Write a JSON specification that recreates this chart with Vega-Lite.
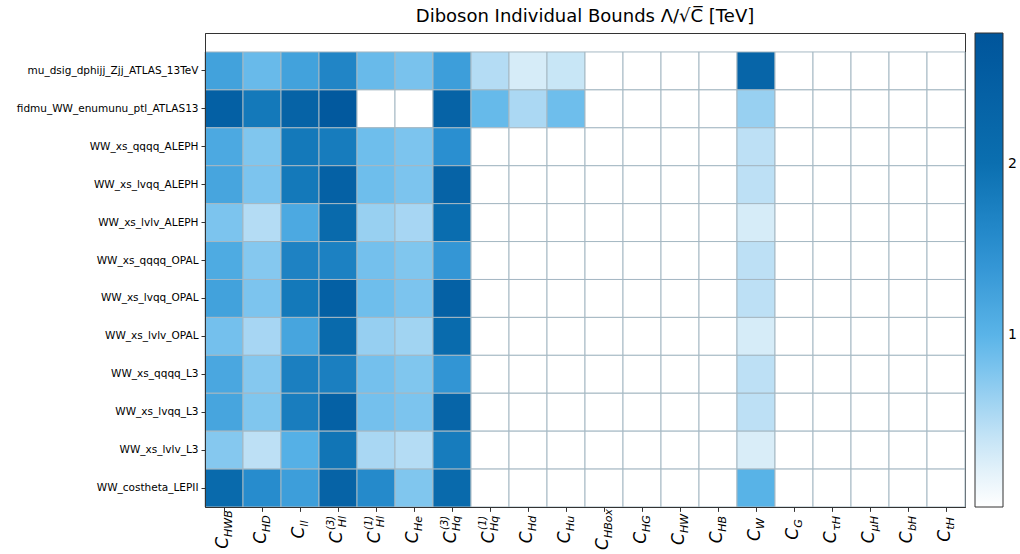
{
  "$schema": "https://vega.github.io/schema/vega-lite/v6.json",
  "autosize": {"type": "none"},
  "padding": {"left": 205, "top": 33, "right": 55, "bottom": 47},
  "width": 760,
  "height": 474,
  "background": "white",
  "config": {"font": "DejaVu Sans", "view": {"stroke": "#333333", "strokeWidth": 1}},
  "title": {"text": "Diboson Individual Bounds Λ/√C̅ [TeV]", "fontSize": 18, "fontWeight": "normal", "color": "#000000", "offset": 7, "anchor": "middle"},
  "data": {"values": [
    {"d":"mu_dsig_dphijj_Zjj_ATLAS_13TeV","c":"HWB","v":1.25},{"d":"mu_dsig_dphijj_Zjj_ATLAS_13TeV","c":"HD","v":0.92},{"d":"mu_dsig_dphijj_Zjj_ATLAS_13TeV","c":"ll","v":1.25},{"d":"mu_dsig_dphijj_Zjj_ATLAS_13TeV","c":"Hl3","v":1.65},{"d":"mu_dsig_dphijj_Zjj_ATLAS_13TeV","c":"Hl1","v":0.92},{"d":"mu_dsig_dphijj_Zjj_ATLAS_13TeV","c":"He","v":0.82},{"d":"mu_dsig_dphijj_Zjj_ATLAS_13TeV","c":"Hq3","v":1.3},{"d":"mu_dsig_dphijj_Zjj_ATLAS_13TeV","c":"Hq1","v":0.5},{"d":"mu_dsig_dphijj_Zjj_ATLAS_13TeV","c":"Hd","v":0.3},{"d":"mu_dsig_dphijj_Zjj_ATLAS_13TeV","c":"Hu","v":0.38},{"d":"mu_dsig_dphijj_Zjj_ATLAS_13TeV","c":"HBox","v":0},{"d":"mu_dsig_dphijj_Zjj_ATLAS_13TeV","c":"HG","v":0},{"d":"mu_dsig_dphijj_Zjj_ATLAS_13TeV","c":"HW","v":0},{"d":"mu_dsig_dphijj_Zjj_ATLAS_13TeV","c":"HB","v":0},{"d":"mu_dsig_dphijj_Zjj_ATLAS_13TeV","c":"W","v":2.3},{"d":"mu_dsig_dphijj_Zjj_ATLAS_13TeV","c":"G","v":0},{"d":"mu_dsig_dphijj_Zjj_ATLAS_13TeV","c":"τH","v":0},{"d":"mu_dsig_dphijj_Zjj_ATLAS_13TeV","c":"μH","v":0},{"d":"mu_dsig_dphijj_Zjj_ATLAS_13TeV","c":"bH","v":0},{"d":"mu_dsig_dphijj_Zjj_ATLAS_13TeV","c":"tH","v":0},
    {"d":"fidmu_WW_enumunu_ptl_ATLAS13","c":"HWB","v":2.45},{"d":"fidmu_WW_enumunu_ptl_ATLAS13","c":"HD","v":1.85},{"d":"fidmu_WW_enumunu_ptl_ATLAS13","c":"ll","v":2.35},{"d":"fidmu_WW_enumunu_ptl_ATLAS13","c":"Hl3","v":2.65},{"d":"fidmu_WW_enumunu_ptl_ATLAS13","c":"Hl1","v":0},{"d":"fidmu_WW_enumunu_ptl_ATLAS13","c":"He","v":0},{"d":"fidmu_WW_enumunu_ptl_ATLAS13","c":"Hq3","v":2.35},{"d":"fidmu_WW_enumunu_ptl_ATLAS13","c":"Hq1","v":0.93},{"d":"fidmu_WW_enumunu_ptl_ATLAS13","c":"Hd","v":0.55},{"d":"fidmu_WW_enumunu_ptl_ATLAS13","c":"Hu","v":0.88},{"d":"fidmu_WW_enumunu_ptl_ATLAS13","c":"HBox","v":0},{"d":"fidmu_WW_enumunu_ptl_ATLAS13","c":"HG","v":0},{"d":"fidmu_WW_enumunu_ptl_ATLAS13","c":"HW","v":0},{"d":"fidmu_WW_enumunu_ptl_ATLAS13","c":"HB","v":0},{"d":"fidmu_WW_enumunu_ptl_ATLAS13","c":"W","v":0.65},{"d":"fidmu_WW_enumunu_ptl_ATLAS13","c":"G","v":0},{"d":"fidmu_WW_enumunu_ptl_ATLAS13","c":"τH","v":0},{"d":"fidmu_WW_enumunu_ptl_ATLAS13","c":"μH","v":0},{"d":"fidmu_WW_enumunu_ptl_ATLAS13","c":"bH","v":0},{"d":"fidmu_WW_enumunu_ptl_ATLAS13","c":"tH","v":0},
    {"d":"WW_xs_qqqq_ALEPH","c":"HWB","v":1.15},{"d":"WW_xs_qqqq_ALEPH","c":"HD","v":0.78},{"d":"WW_xs_qqqq_ALEPH","c":"ll","v":1.85},{"d":"WW_xs_qqqq_ALEPH","c":"Hl3","v":1.8},{"d":"WW_xs_qqqq_ALEPH","c":"Hl1","v":0.88},{"d":"WW_xs_qqqq_ALEPH","c":"He","v":0.8},{"d":"WW_xs_qqqq_ALEPH","c":"Hq3","v":1.5},{"d":"WW_xs_qqqq_ALEPH","c":"Hq1","v":0},{"d":"WW_xs_qqqq_ALEPH","c":"Hd","v":0},{"d":"WW_xs_qqqq_ALEPH","c":"Hu","v":0},{"d":"WW_xs_qqqq_ALEPH","c":"HBox","v":0},{"d":"WW_xs_qqqq_ALEPH","c":"HG","v":0},{"d":"WW_xs_qqqq_ALEPH","c":"HW","v":0},{"d":"WW_xs_qqqq_ALEPH","c":"HB","v":0},{"d":"WW_xs_qqqq_ALEPH","c":"W","v":0.45},{"d":"WW_xs_qqqq_ALEPH","c":"G","v":0},{"d":"WW_xs_qqqq_ALEPH","c":"τH","v":0},{"d":"WW_xs_qqqq_ALEPH","c":"μH","v":0},{"d":"WW_xs_qqqq_ALEPH","c":"bH","v":0},{"d":"WW_xs_qqqq_ALEPH","c":"tH","v":0},
    {"d":"WW_xs_lvqq_ALEPH","c":"HWB","v":1.2},{"d":"WW_xs_lvqq_ALEPH","c":"HD","v":0.8},{"d":"WW_xs_lvqq_ALEPH","c":"ll","v":1.85},{"d":"WW_xs_lvqq_ALEPH","c":"Hl3","v":2.4},{"d":"WW_xs_lvqq_ALEPH","c":"Hl1","v":0.88},{"d":"WW_xs_lvqq_ALEPH","c":"He","v":0.8},{"d":"WW_xs_lvqq_ALEPH","c":"Hq3","v":2.35},{"d":"WW_xs_lvqq_ALEPH","c":"Hq1","v":0},{"d":"WW_xs_lvqq_ALEPH","c":"Hd","v":0},{"d":"WW_xs_lvqq_ALEPH","c":"Hu","v":0},{"d":"WW_xs_lvqq_ALEPH","c":"HBox","v":0},{"d":"WW_xs_lvqq_ALEPH","c":"HG","v":0},{"d":"WW_xs_lvqq_ALEPH","c":"HW","v":0},{"d":"WW_xs_lvqq_ALEPH","c":"HB","v":0},{"d":"WW_xs_lvqq_ALEPH","c":"W","v":0.45},{"d":"WW_xs_lvqq_ALEPH","c":"G","v":0},{"d":"WW_xs_lvqq_ALEPH","c":"τH","v":0},{"d":"WW_xs_lvqq_ALEPH","c":"μH","v":0},{"d":"WW_xs_lvqq_ALEPH","c":"bH","v":0},{"d":"WW_xs_lvqq_ALEPH","c":"tH","v":0},
    {"d":"WW_xs_lvlv_ALEPH","c":"HWB","v":0.8},{"d":"WW_xs_lvlv_ALEPH","c":"HD","v":0.5},{"d":"WW_xs_lvlv_ALEPH","c":"ll","v":1.15},{"d":"WW_xs_lvlv_ALEPH","c":"Hl3","v":2.15},{"d":"WW_xs_lvlv_ALEPH","c":"Hl1","v":0.65},{"d":"WW_xs_lvlv_ALEPH","c":"He","v":0.57},{"d":"WW_xs_lvlv_ALEPH","c":"Hq3","v":2.05},{"d":"WW_xs_lvlv_ALEPH","c":"Hq1","v":0},{"d":"WW_xs_lvlv_ALEPH","c":"Hd","v":0},{"d":"WW_xs_lvlv_ALEPH","c":"Hu","v":0},{"d":"WW_xs_lvlv_ALEPH","c":"HBox","v":0},{"d":"WW_xs_lvlv_ALEPH","c":"HG","v":0},{"d":"WW_xs_lvlv_ALEPH","c":"HW","v":0},{"d":"WW_xs_lvlv_ALEPH","c":"HB","v":0},{"d":"WW_xs_lvlv_ALEPH","c":"W","v":0.3},{"d":"WW_xs_lvlv_ALEPH","c":"G","v":0},{"d":"WW_xs_lvlv_ALEPH","c":"τH","v":0},{"d":"WW_xs_lvlv_ALEPH","c":"μH","v":0},{"d":"WW_xs_lvlv_ALEPH","c":"bH","v":0},{"d":"WW_xs_lvlv_ALEPH","c":"tH","v":0},
    {"d":"WW_xs_qqqq_OPAL","c":"HWB","v":1.12},{"d":"WW_xs_qqqq_OPAL","c":"HD","v":0.75},{"d":"WW_xs_qqqq_OPAL","c":"ll","v":1.7},{"d":"WW_xs_qqqq_OPAL","c":"Hl3","v":1.72},{"d":"WW_xs_qqqq_OPAL","c":"Hl1","v":0.85},{"d":"WW_xs_qqqq_OPAL","c":"He","v":0.78},{"d":"WW_xs_qqqq_OPAL","c":"Hq3","v":1.4},{"d":"WW_xs_qqqq_OPAL","c":"Hq1","v":0},{"d":"WW_xs_qqqq_OPAL","c":"Hd","v":0},{"d":"WW_xs_qqqq_OPAL","c":"Hu","v":0},{"d":"WW_xs_qqqq_OPAL","c":"HBox","v":0},{"d":"WW_xs_qqqq_OPAL","c":"HG","v":0},{"d":"WW_xs_qqqq_OPAL","c":"HW","v":0},{"d":"WW_xs_qqqq_OPAL","c":"HB","v":0},{"d":"WW_xs_qqqq_OPAL","c":"W","v":0.45},{"d":"WW_xs_qqqq_OPAL","c":"G","v":0},{"d":"WW_xs_qqqq_OPAL","c":"τH","v":0},{"d":"WW_xs_qqqq_OPAL","c":"μH","v":0},{"d":"WW_xs_qqqq_OPAL","c":"bH","v":0},{"d":"WW_xs_qqqq_OPAL","c":"tH","v":0},
    {"d":"WW_xs_lvqq_OPAL","c":"HWB","v":1.25},{"d":"WW_xs_lvqq_OPAL","c":"HD","v":0.8},{"d":"WW_xs_lvqq_OPAL","c":"ll","v":1.85},{"d":"WW_xs_lvqq_OPAL","c":"Hl3","v":2.45},{"d":"WW_xs_lvqq_OPAL","c":"Hl1","v":0.88},{"d":"WW_xs_lvqq_OPAL","c":"He","v":0.8},{"d":"WW_xs_lvqq_OPAL","c":"Hq3","v":2.4},{"d":"WW_xs_lvqq_OPAL","c":"Hq1","v":0},{"d":"WW_xs_lvqq_OPAL","c":"Hd","v":0},{"d":"WW_xs_lvqq_OPAL","c":"Hu","v":0},{"d":"WW_xs_lvqq_OPAL","c":"HBox","v":0},{"d":"WW_xs_lvqq_OPAL","c":"HG","v":0},{"d":"WW_xs_lvqq_OPAL","c":"HW","v":0},{"d":"WW_xs_lvqq_OPAL","c":"HB","v":0},{"d":"WW_xs_lvqq_OPAL","c":"W","v":0.45},{"d":"WW_xs_lvqq_OPAL","c":"G","v":0},{"d":"WW_xs_lvqq_OPAL","c":"τH","v":0},{"d":"WW_xs_lvqq_OPAL","c":"μH","v":0},{"d":"WW_xs_lvqq_OPAL","c":"bH","v":0},{"d":"WW_xs_lvqq_OPAL","c":"tH","v":0},
    {"d":"WW_xs_lvlv_OPAL","c":"HWB","v":0.85},{"d":"WW_xs_lvlv_OPAL","c":"HD","v":0.57},{"d":"WW_xs_lvlv_OPAL","c":"ll","v":1.2},{"d":"WW_xs_lvlv_OPAL","c":"Hl3","v":2.15},{"d":"WW_xs_lvlv_OPAL","c":"Hl1","v":0.66},{"d":"WW_xs_lvlv_OPAL","c":"He","v":0.6},{"d":"WW_xs_lvlv_OPAL","c":"Hq3","v":2.12},{"d":"WW_xs_lvlv_OPAL","c":"Hq1","v":0},{"d":"WW_xs_lvlv_OPAL","c":"Hd","v":0},{"d":"WW_xs_lvlv_OPAL","c":"Hu","v":0},{"d":"WW_xs_lvlv_OPAL","c":"HBox","v":0},{"d":"WW_xs_lvlv_OPAL","c":"HG","v":0},{"d":"WW_xs_lvlv_OPAL","c":"HW","v":0},{"d":"WW_xs_lvlv_OPAL","c":"HB","v":0},{"d":"WW_xs_lvlv_OPAL","c":"W","v":0.3},{"d":"WW_xs_lvlv_OPAL","c":"G","v":0},{"d":"WW_xs_lvlv_OPAL","c":"τH","v":0},{"d":"WW_xs_lvlv_OPAL","c":"μH","v":0},{"d":"WW_xs_lvlv_OPAL","c":"bH","v":0},{"d":"WW_xs_lvlv_OPAL","c":"tH","v":0},
    {"d":"WW_xs_qqqq_L3","c":"HWB","v":1.17},{"d":"WW_xs_qqqq_L3","c":"HD","v":0.75},{"d":"WW_xs_qqqq_L3","c":"ll","v":1.75},{"d":"WW_xs_qqqq_L3","c":"Hl3","v":1.75},{"d":"WW_xs_qqqq_L3","c":"Hl1","v":0.85},{"d":"WW_xs_qqqq_L3","c":"He","v":0.78},{"d":"WW_xs_qqqq_L3","c":"Hq3","v":1.42},{"d":"WW_xs_qqqq_L3","c":"Hq1","v":0},{"d":"WW_xs_qqqq_L3","c":"Hd","v":0},{"d":"WW_xs_qqqq_L3","c":"Hu","v":0},{"d":"WW_xs_qqqq_L3","c":"HBox","v":0},{"d":"WW_xs_qqqq_L3","c":"HG","v":0},{"d":"WW_xs_qqqq_L3","c":"HW","v":0},{"d":"WW_xs_qqqq_L3","c":"HB","v":0},{"d":"WW_xs_qqqq_L3","c":"W","v":0.45},{"d":"WW_xs_qqqq_L3","c":"G","v":0},{"d":"WW_xs_qqqq_L3","c":"τH","v":0},{"d":"WW_xs_qqqq_L3","c":"μH","v":0},{"d":"WW_xs_qqqq_L3","c":"bH","v":0},{"d":"WW_xs_qqqq_L3","c":"tH","v":0},
    {"d":"WW_xs_lvqq_L3","c":"HWB","v":1.2},{"d":"WW_xs_lvqq_L3","c":"HD","v":0.78},{"d":"WW_xs_lvqq_L3","c":"ll","v":1.78},{"d":"WW_xs_lvqq_L3","c":"Hl3","v":2.4},{"d":"WW_xs_lvqq_L3","c":"Hl1","v":0.85},{"d":"WW_xs_lvqq_L3","c":"He","v":0.8},{"d":"WW_xs_lvqq_L3","c":"Hq3","v":2.3},{"d":"WW_xs_lvqq_L3","c":"Hq1","v":0},{"d":"WW_xs_lvqq_L3","c":"Hd","v":0},{"d":"WW_xs_lvqq_L3","c":"Hu","v":0},{"d":"WW_xs_lvqq_L3","c":"HBox","v":0},{"d":"WW_xs_lvqq_L3","c":"HG","v":0},{"d":"WW_xs_lvqq_L3","c":"HW","v":0},{"d":"WW_xs_lvqq_L3","c":"HB","v":0},{"d":"WW_xs_lvqq_L3","c":"W","v":0.45},{"d":"WW_xs_lvqq_L3","c":"G","v":0},{"d":"WW_xs_lvqq_L3","c":"τH","v":0},{"d":"WW_xs_lvqq_L3","c":"μH","v":0},{"d":"WW_xs_lvqq_L3","c":"bH","v":0},{"d":"WW_xs_lvqq_L3","c":"tH","v":0},
    {"d":"WW_xs_lvlv_L3","c":"HWB","v":0.75},{"d":"WW_xs_lvlv_L3","c":"HD","v":0.45},{"d":"WW_xs_lvlv_L3","c":"ll","v":1.05},{"d":"WW_xs_lvlv_L3","c":"Hl3","v":1.9},{"d":"WW_xs_lvlv_L3","c":"Hl1","v":0.56},{"d":"WW_xs_lvlv_L3","c":"He","v":0.5},{"d":"WW_xs_lvlv_L3","c":"Hq3","v":1.8},{"d":"WW_xs_lvlv_L3","c":"Hq1","v":0},{"d":"WW_xs_lvlv_L3","c":"Hd","v":0},{"d":"WW_xs_lvlv_L3","c":"Hu","v":0},{"d":"WW_xs_lvlv_L3","c":"HBox","v":0},{"d":"WW_xs_lvlv_L3","c":"HG","v":0},{"d":"WW_xs_lvlv_L3","c":"HW","v":0},{"d":"WW_xs_lvlv_L3","c":"HB","v":0},{"d":"WW_xs_lvlv_L3","c":"W","v":0.28},{"d":"WW_xs_lvlv_L3","c":"G","v":0},{"d":"WW_xs_lvlv_L3","c":"τH","v":0},{"d":"WW_xs_lvlv_L3","c":"μH","v":0},{"d":"WW_xs_lvlv_L3","c":"bH","v":0},{"d":"WW_xs_lvlv_L3","c":"tH","v":0},
    {"d":"WW_costheta_LEPII","c":"HWB","v":2.15},{"d":"WW_costheta_LEPII","c":"HD","v":1.55},{"d":"WW_costheta_LEPII","c":"ll","v":1.3},{"d":"WW_costheta_LEPII","c":"Hl3","v":2.35},{"d":"WW_costheta_LEPII","c":"Hl1","v":1.58},{"d":"WW_costheta_LEPII","c":"He","v":0.78},{"d":"WW_costheta_LEPII","c":"Hq3","v":2.15},{"d":"WW_costheta_LEPII","c":"Hq1","v":0},{"d":"WW_costheta_LEPII","c":"Hd","v":0},{"d":"WW_costheta_LEPII","c":"Hu","v":0},{"d":"WW_costheta_LEPII","c":"HBox","v":0},{"d":"WW_costheta_LEPII","c":"HG","v":0},{"d":"WW_costheta_LEPII","c":"HW","v":0},{"d":"WW_costheta_LEPII","c":"HB","v":0},{"d":"WW_costheta_LEPII","c":"W","v":1.02},{"d":"WW_costheta_LEPII","c":"G","v":0},{"d":"WW_costheta_LEPII","c":"τH","v":0},{"d":"WW_costheta_LEPII","c":"μH","v":0},{"d":"WW_costheta_LEPII","c":"bH","v":0},{"d":"WW_costheta_LEPII","c":"tH","v":0}
  ]},
  "encoding": {
    "y": {
      "field": "d", "type": "nominal",
      "sort": ["mu_dsig_dphijj_Zjj_ATLAS_13TeV","fidmu_WW_enumunu_ptl_ATLAS13","WW_xs_qqqq_ALEPH","WW_xs_lvqq_ALEPH","WW_xs_lvlv_ALEPH","WW_xs_qqqq_OPAL","WW_xs_lvqq_OPAL","WW_xs_lvlv_OPAL","WW_xs_qqqq_L3","WW_xs_lvqq_L3","WW_xs_lvlv_L3","WW_costheta_LEPII"],
      "scale": {"paddingInner": 0, "paddingOuter": 0.25, "align": 1},
      "axis": {"title": null, "labelFontSize": 10.5, "labelLimit": 400, "labelColor": "#000000", "labelPadding": 3, "tickSize": 4, "tickColor": "#333333", "domainColor": "#333333"}
    }
  },
  "layer": [
    {
      "mark": {"type": "rect", "stroke": "#a5b8c3", "strokeWidth": 1},
      "encoding": {
        "x": {
          "field": "c", "type": "nominal",
          "sort": ["HWB","HD","ll","Hl3","Hl1","He","Hq3","Hq1","Hd","Hu","HBox","HG","HW","HB","W","G","τH","μH","bH","tH"],
          "scale": {"paddingInner": 0, "paddingOuter": 0},
          "axis": {"title": null, "orient": "bottom", "labelExpr": "indexof(['Hl3','Hl1','Hq3','Hq1'], datum.value) >= 0 ? slice(datum.value, 0, 2) : datum.value", "labelAngle": -90, "labelAlign": "right", "labelBaseline": "middle", "labelFontSize": 11, "labelFontStyle": "italic", "labelColor": "#000000", "labelOffset": 5, "labelOverlap": false, "tickSize": 4, "tickColor": "#333333", "domainColor": "#333333",
            "labelPadding": {"condition": [
              {"test": "datum.value === 'HBox'", "value": -2.5},
              {"test": "datum.value === 'HWB'", "value": -1.3},
              {"test": "datum.value === 'HW'", "value": 2.45},
              {"test": "datum.value === 'HD' || datum.value === 'HG'", "value": 3.7},
              {"test": "datum.value === 'tH'", "value": 5.75},
              {"test": "datum.value === 'W'", "value": 6.6},
              {"test": "datum.value === 'G'", "value": 7.8},
              {"test": "datum.value === 'll'", "value": 9}
            ], "value": 4.35}
          }
        },
        "color": {
          "field": "v", "type": "quantitative",
          "scale": {"domain": [0, 0.3, 0.5, 0.8, 1.0, 1.5, 2.0, 2.76], "range": ["#ffffff", "#d6ecf8", "#b4dcf4", "#7cc4ee", "#5ab4e8", "#2a8fd0", "#0b6fb0", "#00559b"], "interpolate": "rgb"},
          "legend": {"title": null, "orient": "right", "offset": 10, "gradientLength": 474, "gradientThickness": 28, "gradientStrokeColor": "#333333", "gradientStrokeWidth": 1, "values": [1, 2], "format": "d", "labelFontSize": 14, "labelColor": "#000000", "labelOffset": 5, "labelLimit": 40}
        }
      }
    },
    {
      "mark": {"type": "rect", "opacity": 0},
      "encoding": {
        "x": {
          "field": "c", "type": "nominal",
          "sort": ["HWB","HD","ll","Hl3","Hl1","He","Hq3","Hq1","Hd","Hu","HBox","HG","HW","HB","W","G","τH","μH","bH","tH"],
          "scale": {"paddingInner": 0, "paddingOuter": 0},
          "axis": {"title": null, "orient": "bottom", "labelExpr": "'C'", "labelAngle": -90, "labelAlign": "right", "labelBaseline": "middle", "labelFontSize": 17, "labelFontStyle": "italic", "labelColor": "#000000", "labelOffset": -1, "labelOverlap": false, "tickSize": 4, "tickColor": "#333333", "domain": false,
            "labelPadding": {"condition": [
              {"test": "datum.value === 'HBox'", "value": 26.6},
              {"test": "datum.value === 'HWB'", "value": 25.4},
              {"test": "datum.value === 'HW'", "value": 21.65},
              {"test": "datum.value === 'HD' || datum.value === 'HG'", "value": 20.4},
              {"test": "datum.value === 'tH'", "value": 18.35},
              {"test": "datum.value === 'W'", "value": 17.5},
              {"test": "datum.value === 'G'", "value": 16.3},
              {"test": "datum.value === 'll'", "value": 15.1}
            ], "value": 19.75}
          }
        }
      }
    },
    {
      "mark": {"type": "rect", "opacity": 0},
      "encoding": {
        "x": {
          "field": "c", "type": "nominal",
          "sort": ["HWB","HD","ll","Hl3","Hl1","He","Hq3","Hq1","Hd","Hu","HBox","HG","HW","HB","W","G","τH","μH","bH","tH"],
          "scale": {"paddingInner": 0, "paddingOuter": 0},
          "axis": {"title": null, "orient": "bottom", "labelExpr": "indexof(['Hl3','Hl1','Hq3','Hq1'], datum.value) >= 0 ? '(' + slice(datum.value, 2) + ')' : ''", "labelAngle": -90, "labelAlign": "right", "labelBaseline": "middle", "labelFontSize": 10, "labelFontStyle": "italic", "labelColor": "#000000", "labelOffset": -7, "labelOverlap": false, "labelPadding": 4.35, "tickSize": 4, "tickColor": "#333333", "domain": false}
        }
      }
    }
  ],
  "resolve": {"axis": {"x": "independent"}}
}
